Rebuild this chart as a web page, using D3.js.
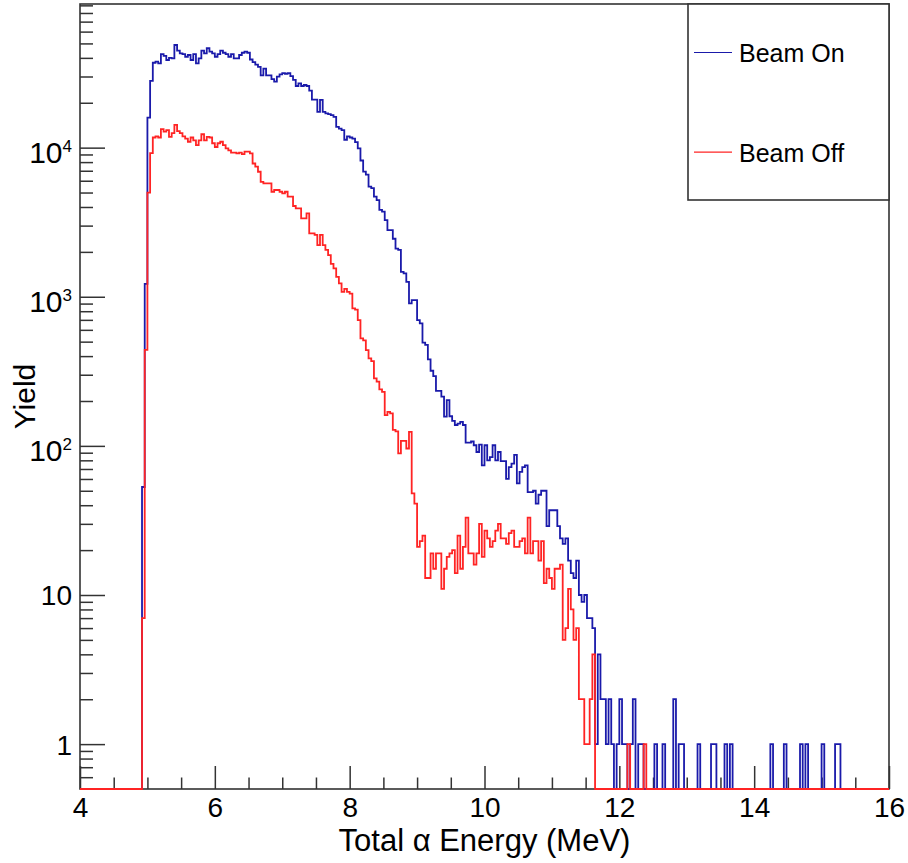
<!DOCTYPE html>
<html>
<head>
<meta charset="utf-8">
<script src="https://cdn.jsdelivr.net/npm/d3@7"></script>
<style>
  body { margin: 0; background: #fff; }
  svg { display: block; font-family: "Liberation Sans", Arial, sans-serif; }
</style>
</head>
<body>
<svg id="chart" width="908" height="863"></svg>
<script>
// histogram binning (MeV)
const binStart = 4.92;
const binWidth = 0.04;

// Beam On counts per bin, starting at 4.92 MeV
const beamOn = [
  53, 1220, 15900, 28000, 37100, 37700, 36700, 42400, 41200, 38700,
  40000, 39700, 48800, 44700, 42900, 42400, 40700, 41800, 38700, 42400,
  36700, 39700, 44700, 42900, 46400, 44000, 42900, 40700, 42400, 44700,
  43300, 42400, 40700, 42400, 39700, 39700, 41800, 43300, 44000, 43300,
  39000, 37500, 36000, 34800, 30500, 33900, 30500, 30500, 28800, 27700,
  29900, 31000, 31600, 31300, 31600, 30200, 28500, 25900, 27000, 25900,
  26300, 25900, 24100, 21000, 21000, 17400, 20900, 17400, 17000, 16800,
  16500, 16100, 13800, 13400, 13100, 11300, 11900, 11700, 11500, 10900,
  9900, 8200, 6900, 6600, 5470, 5350, 4690, 4450, 3820, 3720,
  3270, 2800, 2800, 2450, 2100, 2060, 1470, 1435, 1260, 903,
  950, 950, 698, 663, 492, 475, 380, 319, 294, 234,
  234, 214, 157, 203, 158, 147, 138, 141, 145, 138,
  105, 105, 107, 101, 91, 102, 74, 101, 80, 84,
  101, 80, 91, 79, 79, 60, 72, 76, 87, 56,
  67, 72, 74, 49, 49, 50, 41, 47, 50, 50,
  29, 37, 37, 37, 29, 24, 22, 24, 17, 14,
  13, 17, 10, 9, 10, 7, 7, 6, 1, 4,
  2, 2, 1, 2, 1, 0, 1, 2, 1, 1,
  0, 1, 2, 0, 1, 1, 0, 0, 0, 0,
  1, 0, 0, 1, 0, 0, 0, 2, 0, 1,
  1, 0, 0, 0, 0, 0, 1, 0, 0, 0,
  0, 1, 1, 0, 0, 0, 1, 0, 1, 0,
  0, 0, 0, 0, 0, 0, 0, 0, 0, 0,
  0, 0, 0, 1, 0, 0, 0, 0, 1, 0,
  0, 0, 0, 0, 1, 0, 1, 0, 0, 0,
  0, 0, 1, 0, 0, 0, 0, 1, 1
];

// Beam Off counts per bin, starting at 4.92 MeV
const beamOff = [
  7, 440, 5000, 9200, 11700, 11900, 11700, 13300, 12800, 13100,
  11800, 12500, 14200, 12900, 12500, 11900, 11500, 10950, 11700, 11200,
  10400, 11200, 12300, 11200, 11800, 11700, 10700, 10100, 10700, 10950,
  10400, 9900, 9600, 9250, 9250, 9160, 9250, 9060, 9400, 9400,
  9160, 7830, 7450, 6890, 5900, 5760, 5760, 5760, 5060, 5200,
  5200, 5060, 4930, 5060, 4690, 4690, 4060, 3920, 3920, 3360,
  3360, 3620, 2660, 2660, 2600, 2220, 2600, 2220, 2060, 1900,
  1660, 1550, 1360, 1230, 1080, 1130, 1080, 1050, 836, 820,
  698, 526, 510, 439, 386, 370, 284, 270, 239, 230,
  161, 169, 165, 128, 125, 89, 108, 108, 96, 124,
  48, 41, 21, 23, 25, 13, 13, 19, 15, 19,
  19, 11, 15, 18, 19, 20, 14, 25, 15, 21,
  33, 19, 19, 16, 19, 30, 18, 27, 24, 21,
  23, 27, 30, 24, 24, 22, 26, 27, 21, 21,
  23, 24, 19, 33, 19, 23, 23, 17, 23, 12,
  15, 13, 11, 15, 15, 16, 5, 6, 11, 8,
  5, 6, 2, 2, 1, 1, 2, 4, 0, 0,
  0, 0, 0, 0, 0, 0, 0, 0, 0, 0,
  1, 0, 0, 0, 0, 0, 1
];

const seriesNames = ["Beam On", "Beam Off"];
const seriesColors = ["#1a1aaa", "#ff2424"];
const xDomain = [4, 16];
const yDomain = [0.5, 9.19e4];
const xMajorTicks = [4, 6, 8, 10, 12, 14, 16];
const yMajorTicks = [1, 10, 100, 1000, 10000];

const margin = { top: 4, right: 19, bottom: 74, left: 80 };
const width = 908 - margin.left - margin.right;
const height = 863 - margin.top - margin.bottom;

const svg = d3.select("#chart")
  .append("g")
  .attr("transform", `translate(${margin.left},${margin.top})`);

const x = d3.scaleLinear().domain(xDomain).range([0, width]);
const y = d3.scaleLog().domain(yDomain).range([height, 0]);

// frame
svg.append("rect")
  .attr("width", width)
  .attr("height", height)
  .attr("fill", "none")
  .attr("stroke", "#333")
  .attr("stroke-width", 1.6);

// x ticks (minor every 0.5, major every 2)
const xMinor = d3.range(xDomain[0], xDomain[1] + 0.001, 0.5).filter(v => !xMajorTicks.includes(v));
svg.append("g")
  .attr("class", "x minor")
  .attr("transform", `translate(0,${height})`)
  .call(d3.axisBottom(x).tickValues(xMinor).tickSize(-11.5).tickFormat(""))
  .call(g => g.select(".domain").remove());

const xAxis = svg.append("g")
  .attr("class", "x axis")
  .attr("transform", `translate(0,${height})`)
  .call(d3.axisBottom(x).tickValues(xMajorTicks).tickSize(-23).tickFormat(d3.format("d")))
  .call(g => g.select(".domain").remove());

xAxis.selectAll("text")
  .attr("y", 28)
  .attr("dy", null)
  .attr("fill", "#000")
  .style("font-size", "28px");

// y ticks (log)
const yMinor = [];
[0.1, 1, 10, 100, 1000, 10000].forEach(dec => {
  for (let m = 2; m <= 9; m++) {
    const v = dec * m;
    if (v > yDomain[0] && v < yDomain[1]) yMinor.push(v);
  }
});
svg.append("g")
  .attr("class", "y minor")
  .call(d3.axisLeft(y).tickValues(yMinor).tickSize(-13).tickFormat(""))
  .call(g => g.select(".domain").remove());

const yAxis = svg.append("g")
  .attr("class", "y axis")
  .call(d3.axisLeft(y).tickValues(yMajorTicks).tickSize(-25).tickFormat(""))
  .call(g => g.select(".domain").remove());

yAxis.selectAll(".tick").each(function(d) {
  const t = d3.select(this).append("text")
    .attr("x", -8)
    .attr("fill", "#000")
    .attr("text-anchor", "end");
  if (d < 100) {
    t.attr("y", 10).style("font-size", "28px").text(d);
  } else {
    t.attr("y", 15).style("font-size", "30px");
    t.append("tspan").text("10");
    t.append("tspan")
      .attr("dy", -11)
      .style("font-size", "17px")
      .text(Math.round(Math.log10(d)));
  }
});

svg.selectAll(".tick line").attr("stroke", "#333").attr("stroke-width", 1.5);

// histograms, drawn as steps; empty bins sit on the bottom of the frame
function histPoints(values) {
  const pts = [[xDomain[0], 0]];
  values.forEach((v, i) => pts.push([binStart + i * binWidth, v]));
  pts.push([binStart + values.length * binWidth, 0]);
  pts.push([xDomain[1], 0]);
  return pts;
}

const line = d3.line()
  .x(d => x(d[0]))
  .y(d => y(Math.max(d[1], yDomain[0])))
  .curve(d3.curveStepAfter);

[beamOn, beamOff].forEach((values, i) => {
  svg.append("path")
    .attr("class", "hist")
    .attr("d", line(histPoints(values)))
    .attr("fill", "none")
    .attr("stroke", seriesColors[i])
    .attr("stroke-width", 1.8);
});

// axis titles
svg.append("text")
  .attr("x", width / 2)
  .attr("y", 847)
  .attr("text-anchor", "middle")
  .style("font-size", "31px")
  .text("Total \u03b1 Energy (MeV)");

svg.append("text")
  .attr("transform", `translate(-45,${height / 2}) rotate(-90)`)
  .attr("text-anchor", "middle")
  .style("font-size", "30px")
  .text("Yield");

// legend
const legend = svg.append("g").attr("transform", `translate(${width - 201},0)`);
legend.append("rect")
  .attr("width", 201)
  .attr("height", 196)
  .attr("fill", "#fff")
  .attr("stroke", "#333")
  .attr("stroke-width", 1.6);

seriesNames.forEach((name, i) => {
  const ly = 48.5 + i * 99.7;
  legend.append("line")
    .attr("x1", 6).attr("x2", 44)
    .attr("y1", ly).attr("y2", ly)
    .attr("stroke", seriesColors[i])
    .attr("stroke-width", 1.2);
  legend.append("text")
    .attr("x", 51)
    .attr("y", ly + 9.5)
    .style("font-size", "25px")
    .text(name);
});
</script>
</body>
</html>
